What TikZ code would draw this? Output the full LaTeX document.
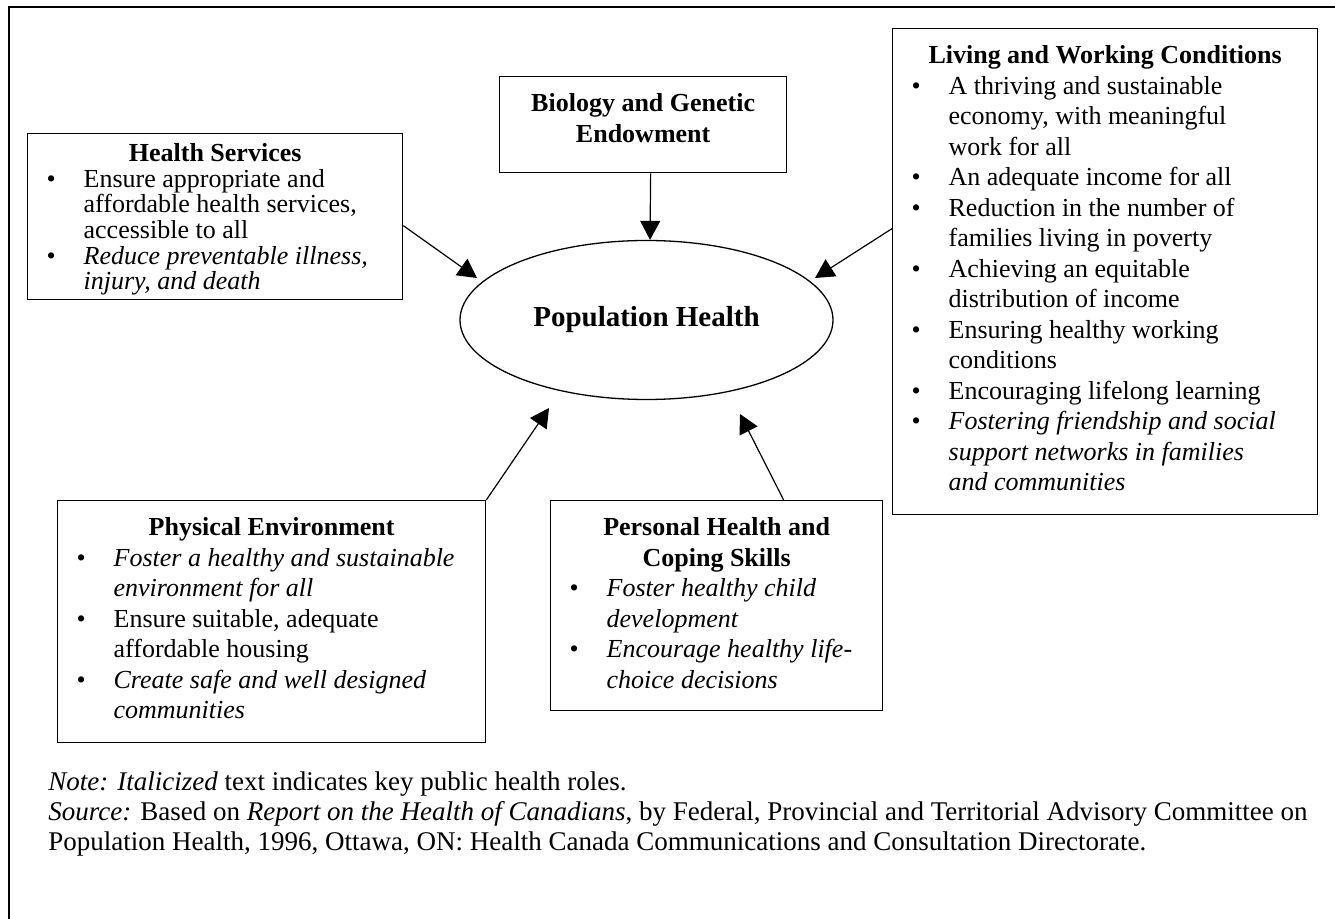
\documentclass[tikz,border=0pt]{standalone}
\usepackage{fontspec}
\setmainfont{Liberation Serif}
\usetikzlibrary{arrows.meta, shapes.geometric, positioning}

% bullet line with hanging indent, and a centred bold heading
\newcommand{\bitem}[1]{\par\hangindent=28pt\hangafter=1\noindent\makebox[28pt][l]{\hspace{9.5pt}\textbullet}#1}
\newcommand{\boxtitle}[2][17.5pt]{{\centering\bfseries\rule{0pt}{#1}#2\par}}

\begin{document}
\begin{tikzpicture}[x=0.5pt, y=-0.5pt,
  factor/.style={draw, line width=0.65pt, inner sep=0pt, anchor=north west, font=\fontsize{13}{15.25}\selectfont},
  arr/.style={-{Triangle[length=9.5pt, width=10pt]}, line width=0.6pt}
]
\useasboundingbox (0,0) rectangle (1335,919);
\draw[line width=1pt] (9,919) -- (9,7) -- (1335,7);

\node[factor, font=\fontsize{13}{12.8}\selectfont] (hs) at (27,133) {\parbox[t][83pt][t]{187.5pt}{\raggedright
  \boxtitle[14pt]{Health Services}
  \bitem{Ensure appropriate and\newline affordable health services,\newline accessible to all}
  \bitem{\textit{Reduce preventable illness,\newline injury, and death}}}};

\node[factor] (bio) at (499,76) {\parbox[t][48pt][t]{143.5pt}{%
  \boxtitle{Biology and Genetic\\ Endowment}}};

\node[factor] (lw) at (892,28) {\parbox[t][243pt][t]{212.5pt}{\raggedright
  \boxtitle{Living and Working Conditions}
  \bitem{A thriving and sustainable\newline economy, with meaningful\newline work for all}
  \bitem{An adequate income for all}
  \bitem{Reduction in the number of\newline families living in poverty}
  \bitem{Achieving an equitable\newline distribution of income}
  \bitem{Ensuring healthy working\newline conditions}
  \bitem{Encouraging lifelong learning}
  \bitem{\textit{Fostering friendship and social\newline support networks in families\newline and communities}}}};

\node[factor] (pe) at (57,500) {\parbox[t][121pt][t]{214pt}{\raggedright
  \boxtitle{Physical Environment}
  \bitem{\textit{Foster a healthy and sustainable\newline environment for all}}
  \bitem{Ensure suitable, adequate\newline affordable housing}
  \bitem{\textit{Create safe and well designed\newline communities}}}};

\node[factor] (pc) at (550,500) {\parbox[t][105pt][t]{166pt}{\raggedright
  \boxtitle{Personal Health and\\ Coping Skills}
  \bitem{\textit{Foster healthy child\newline development}}
  \bitem{\textit{Encourage healthy life-\newline choice decisions}}}};

\node[draw, ellipse, line width=0.65pt, minimum width=186.5pt, minimum height=79.5pt, inner sep=0pt,
  font=\fontsize{14.5}{16}\selectfont\bfseries] (ph) at (646.5,320) {Population Health};

\coordinate (hs-tip) at (477,278);
\coordinate (lw-tip) at (815,278);
\coordinate (pe-tip) at (549,408);
\coordinate (pc-tip) at (740,414);

\draw[arr] ([xshift=3.75pt]bio.south) -- ([xshift=1.75pt]ph.north);
\draw[arr] ([yshift=-4.5pt]hs.east) -- (hs-tip);
\draw[arr] ([yshift=21.5pt]lw.west) -- (lw-tip);
\draw[arr] (pe.north east) -- (pe-tip);
\draw[arr] ([xshift=33.5pt]pc.north) -- (pc-tip);

\node[anchor=north west, inner sep=0pt, align=left, font=\fontsize{13.5}{15}\selectfont] (note) at (48,771)
  {\textit{Note: Italicized} text indicates key public health roles.\\
   \textit{Source:} Based on \textit{Report on the Health of Canadians}, by Federal, Provincial and Territorial Advisory Committee on\\
   Population Health, 1996, Ottawa, ON: Health Canada Communications and Consultation Directorate.};
\end{tikzpicture}
\end{document}
